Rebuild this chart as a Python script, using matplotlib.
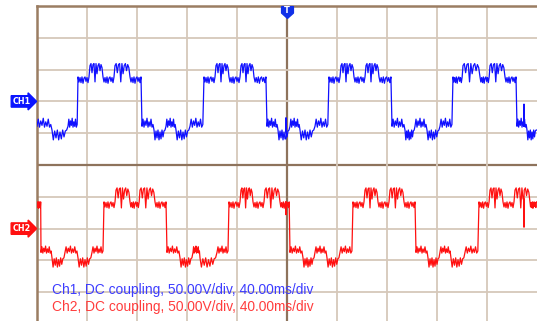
import numpy as np
import matplotlib
matplotlib.use('Agg')
import matplotlib.pyplot as plt
from matplotlib.path import Path

# segment edges (divisions)
ch1_edges = [-5.00, -4.70, -4.38, -4.18, -3.94, -3.68, -3.44, -3.14, -2.90, -2.66,
             -2.42, -2.22, -1.94, -1.66, -1.42, -1.16, -0.92, -0.66, -0.40, -0.18,
             0.06, 0.26, 0.56, 0.84, 1.08, 1.34, 1.58, 1.84, 2.10, 2.36,
             2.56, 2.80, 3.06, 3.32, 3.52, 3.86, 4.06, 4.36, 4.60, 4.80, 5.00]
ch1_steps = ['L1', 'L2', 'L1',
             'H1', 'H2', 'H1', 'H2', 'H1', 'L1', 'L2', 'L1', 'L2', 'L1',
             'H1', 'H2', 'H1', 'H2', 'H1', 'L1', 'L2', 'L1', 'L2', 'L1',
             'H1', 'H2', 'H1', 'H2', 'H1', 'L1', 'L2', 'L1', 'L2', 'L1',
             'H1', 'H2', 'H1', 'H2', 'H1', 'L1', 'L2']
ch2_edges = [-5.00, -4.92, -4.70, -4.44, -4.18, -3.90, -3.66, -3.42, -3.14, -2.94,
             -2.64, -2.40, -2.14, -1.88, -1.74, -1.40, -1.16, -0.92, -0.68, -0.44,
             -0.14, 0.06, 0.32, 0.56, 0.80, 1.06, 1.32, 1.56, 1.82, 2.06,
             2.34, 2.58, 2.82, 3.06, 3.28, 3.56, 3.84, 4.06, 4.32, 4.56, 4.86, 5.00]
ch2_steps = ['H1',
             'L1', 'L2', 'L1', 'L2', 'L1', 'H1', 'H2', 'H1', 'H2', 'H1',
             'L1', 'L2', 'L1', 'L2', 'L1', 'H1', 'H2', 'H1', 'H2', 'H1',
             'L1', 'L2', 'L1', 'L2', 'L1', 'H1', 'H2', 'H1', 'H2', 'H1',
             'L1', 'L2', 'L1', 'L2', 'L1', 'H1', 'H2', 'H1', 'H2', 'H1']

# level (div) and ripple swing (div) per channel
ch1_level = {'H2': 3.19, 'H1': 2.77, 'L1': 1.19, 'L2': 1.10}
ch1_swing = {'H2': -0.32, 'H1': -0.20, 'L1': 0.28, 'L2': -0.31}
ch2_level = {'H2': -0.72, 'H1': -1.16, 'L1': -2.77, 'L2': -2.92}
ch2_swing = {'H2': -0.35, 'H1': -0.20, 'L1': 0.22, 'L2': -0.29}

# ripple seen on each plateau (fraction of swing)
ripple = {
    'H2': [0.2, 0.0, 0.9, 0.1, 0.0, 1.8, 0.0, 1.0, 0.2, 0.0, 0.7, 0.1, 0.4],
    'H1': [0.0, 0.8, 0.1, 0.9, 0.0, 1.0, 0.2, 0.0, 0.7, 0.1, 0.9, 0.0],
    'L1': [0.1, 0.9, 0.0, 0.7, 0.2, 1.0, 0.0, 0.6, 0.1, 0.9, 0.0, 0.3],
    'L2': [0.0, 1.0, 0.1, 0.8, 0.0, 1.0, 0.2, 0.9, 0.0, 0.7, 0.1, 0.0],
}

# glitches (time div, value div)
ch1_glitch = [(-0.02, 1.48), (4.74, 1.91)]
ch2_glitch = [(-0.02, -1.56), (4.74, -1.95)]


def build(edges, steps, level, swing, glitch):
    xs, ys = [], []
    for i, s in enumerate(steps):
        shape = ripple[s]
        t = np.linspace(edges[i], edges[i + 1], len(shape), endpoint=False)
        for tt, r in zip(t, shape):
            xs.append(tt)
            ys.append(level[s] + swing[s] * r)
    xs.append(edges[-1])
    ys.append(ys[-1])
    xs, ys = np.array(xs), np.array(ys)
    for gx, gy in glitch:
        k = np.searchsorted(xs, gx)
        xs = np.insert(xs, k, [gx, gx, gx])
        ys = np.insert(ys, k, [ys[k - 1], gy, ys[k - 1]])
    return xs, ys


fig = plt.figure(figsize=(5.37, 3.21), dpi=100)
ax = fig.add_axes([37 / 537, -3 / 321, 500 / 537, 318 / 321])
ax.set_xlim(-5, 5)
ax.set_ylim(-5, 5)
ax.set_xticks([])
ax.set_yticks([])

grid_c = '#d6c8ba'
for v in range(-4, 5):
    c, lw = (('#8e735c', 1.6) if v == 0 else (grid_c, 1.3))
    ax.axvline(v, color=c, lw=lw, zorder=1)
    ax.axhline(v, color=c, lw=lw, zorder=1)

for sp in ['right', 'bottom']:
    ax.spines[sp].set_visible(False)
for sp in ['left', 'top']:
    ax.spines[sp].set_color('#9b7d62')
    ax.spines[sp].set_linewidth(1.8)

x1, y1 = build(ch1_edges, ch1_steps, ch1_level, ch1_swing, ch1_glitch)
x2, y2 = build(ch2_edges, ch2_steps, ch2_level, ch2_swing, ch2_glitch)
ax.plot(x1, y1, color='#1010ff', lw=0.9, zorder=3)
ax.plot(x2, y2, color='#ff1010', lw=0.9, zorder=3)

# channel markers
for lab, yv, col in [('CH1', 2.0, '#0a14ff'), ('CH2', -2.0, '#ff1010')]:
    ax.text(-5.31, yv, lab, ha='center', va='center', color='white', fontsize=5.8,
            fontweight='bold', clip_on=False, zorder=5,
            bbox=dict(boxstyle='rarrow,pad=0.15', fc=col, ec=col))

# trigger marker
shield = Path([(-1, 1), (1, 1), (1, -0.1), (0, -1), (-1, -0.1), (-1, 1)])
ax.plot([0], [4.8], marker=shield, markersize=8.5, color='#1030e8', clip_on=False, zorder=5)
ax.text(0, 4.86, 'T', ha='center', va='center', color='white', fontsize=6,
        fontweight='bold', zorder=6, clip_on=False)

ax.text(-4.7, -4.05, 'Ch1, DC coupling, 50.00V/div, 40.00ms/div', color='#3c3cff',
        fontsize=9.9, family='Liberation Sans', va='baseline', zorder=4)
ax.text(-4.7, -4.59, 'Ch2, DC coupling, 50.00V/div, 40.00ms/div', color='#ff3c3c',
        fontsize=9.9, family='Liberation Sans', va='baseline', zorder=4)

fig.savefig('out.png', dpi=100)
